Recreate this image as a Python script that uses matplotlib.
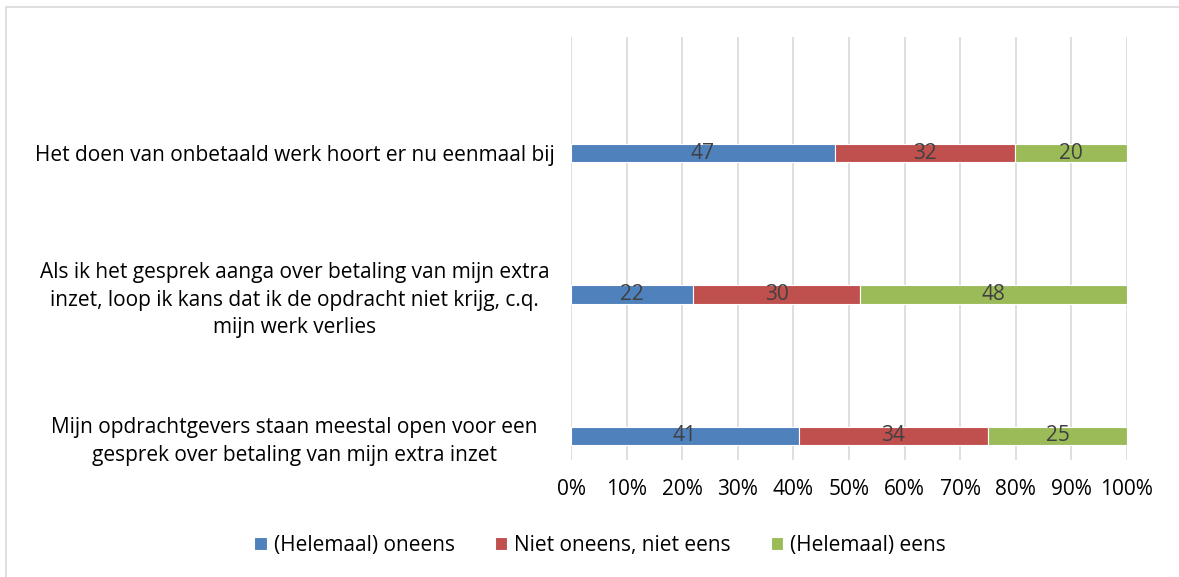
import matplotlib.pyplot as plt
from matplotlib.patches import Rectangle
import numpy as np

plt.rcParams['font.family'] = ['Open Sans', 'DejaVu Sans']

# bottom to top, as drawn
categories = [
    "Mijn opdrachtgevers staan meestal open voor een\ngesprek over betaling van mijn extra inzet",
    "Als ik het gesprek aanga over betaling van mijn extra\ninzet, loop ik kans dat ik de opdracht niet krijg, c.q.\nmijn werk verlies",
    "Het doen van onbetaald werk hoort er nu eenmaal bij",
]
series_names = ["(Helemaal) oneens", "Niet oneens, niet eens", "(Helemaal) eens"]
oneens = [41, 22, 47]
neutraal = [34, 30, 32]
eens = [25, 48, 20]
colors = ["#4F81BD", "#C0504D", "#9BBB59"]

fs = 15

fig = plt.figure(figsize=(11.79, 5.77), dpi=100)
ax = fig.add_axes([571 / 1179, 1 - 460 / 577, 556 / 1179, 423 / 577])

# border of the chart area
fig.patches.append(Rectangle((6 / 1179, -0.05), 1.2, 1 - 7 / 577 + 0.05,
                             transform=fig.transFigure, fill=False,
                             edgecolor="#D9D9D9", linewidth=1.2))

data = np.array([oneens, neutraal, eens], dtype=float)
totals = data.sum(axis=0)
pct = data / totals * 100
y = np.arange(len(categories))
left = np.zeros(len(categories))
for i, name in enumerate(series_names):
    bars = ax.barh(y, pct[i], left=left, height=0.13, color=colors[i],
                   edgecolor="white", linewidth=0.8, label=name, zorder=3)
    ax.bar_label(bars, labels=[str(int(v)) for v in data[i]], label_type="center",
                 color="#404040", fontsize=fs)
    left += pct[i]

ax.set_xlim(0, 100)
ax.set_ylim(-0.17, 2.82)
ax.set_xticks(np.arange(0, 101, 10))
ax.set_xticklabels([f"{v}%" for v in range(0, 101, 10)], fontsize=fs)
ax.set_yticks(y)
ax.set_yticklabels(categories, fontsize=fs, ha="center", multialignment="center",
                   linespacing=1.4)
ax.tick_params(axis="y", length=0, pad=199)
ax.tick_params(axis="x", length=0, pad=14)
ax.grid(axis="x", color="#D9D9D9", linewidth=1.2, zorder=0)
for s in ax.spines.values():
    s.set_visible(False)

fig.legend(loc="center", bbox_to_anchor=(0.509, 1 - 545 / 577), ncol=3, frameon=False,
           fontsize=fs, handlelength=0.6, handleheight=0.6, handletextpad=0.35,
           columnspacing=1.9)

fig.savefig("out.png", dpi=100)
